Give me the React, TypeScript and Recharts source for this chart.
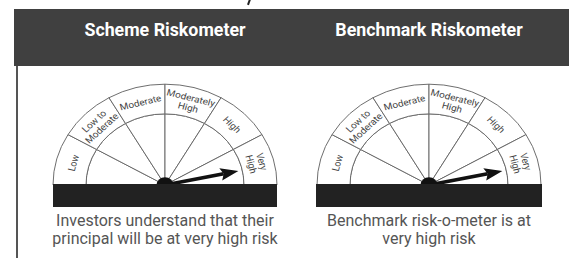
import { Pie, PieChart } from "recharts";

const riskLevels = ["Low", "Low to Moderate", "Moderate", "Moderately High", "High", "Very High"];
const levelLabelLines = [
  ["Low"],
  ["Low to", "Moderate"],
  ["Moderate"],
  ["Moderately", "High"],
  ["High"],
  ["Very", "High"],
];
const segmentWeights = [1, 1, 1, 1, 1, 1];
const gaugeTitles = ["Scheme Riskometer", "Benchmark Riskometer"];
const gaugeCaptions = [
  ["Investors understand that their", "principal will be at very high risk"],
  ["Benchmark risk-o-meter is at", "very high risk"],
];
// needle position on the 0–6 level scale
const needleLevels = [5.6, 5.6];

const RADIAN = Math.PI / 180;
const CX = 120;
const CY = 118;
const INNER_R = 79;
const OUTER_R = 112;
const LINE = "#666";

const segments = riskLevels.map((name, i) => ({ name, value: segmentWeights[i] }));

function RingLabel(props: any) {
  const { cx, cy, midAngle, innerRadius, outerRadius, index } = props;
  const r = (innerRadius + outerRadius) / 2;
  const x = cx + r * Math.cos(-midAngle * RADIAN);
  const y = cy + r * Math.sin(-midAngle * RADIAN);
  const lines = levelLabelLines[index];
  const rot = 90 - midAngle;
  return (
    <text
      x={x}
      y={y}
      transform={`rotate(${rot} ${x} ${y})`}
      textAnchor="middle"
      dominantBaseline="central"
      fontSize={10}
      fontFamily="Roboto, sans-serif"
      fill="#444"
    >
      {lines.map((l, i) => (
        <tspan key={i} x={x} dy={i === 0 ? -(lines.length - 1) * 5.5 : 11}>
          {l}
        </tspan>
      ))}
    </text>
  );
}

function NeedleLabel(props: any) {
  const { cx, cy, index, endAngle } = props;
  if (index !== 0) return null;
  const a = -endAngle * RADIAN;
  const px = (r: number, off = 0) =>
    cx + r * Math.cos(a) + off * Math.cos(a + Math.PI / 2);
  const py = (r: number, off = 0) =>
    cy + r * Math.sin(a) + off * Math.sin(a + Math.PI / 2);
  return (
    <g>
      <line x1={cx} y1={cy} x2={px(60)} y2={py(60)} stroke="#111" strokeWidth={4} />
      <polygon
        points={`${px(75)},${py(75)} ${px(57, 7)},${py(57, 7)} ${px(60, 0)},${py(60, 0)} ${px(57, -7)},${py(57, -7)}`}
        fill="#111"
      />
      <circle cx={cx} cy={cy} r={8.5} fill="#111" />
    </g>
  );
}

function Gauge({ center, needle }: { center: number; needle: number }) {
  const needleData = [{ value: needle }, { value: 6 - needle }];
  return (
    <div
      style={{
        position: "absolute",
        left: center - CX,
        top: 185 - CY,
        width: 240,
        height: 124,
        transform: "scaleY(0.9)",
        transformOrigin: `${CX}px ${CY}px`,
      }}
    >
      <PieChart width={240} height={124} margin={{ top: 0, right: 0, bottom: 0, left: 0 }}>
        <Pie
          data={segments}
          dataKey="value"
          cx={CX}
          cy={CY}
          startAngle={180}
          endAngle={0}
          innerRadius={0}
          outerRadius={INNER_R}
          fill="#fff"
          stroke={LINE}
          strokeWidth={1}
          isAnimationActive={false}
        />
        <Pie
          data={segments}
          dataKey="value"
          cx={CX}
          cy={CY}
          startAngle={180}
          endAngle={0}
          innerRadius={INNER_R}
          outerRadius={OUTER_R}
          fill="#fff"
          stroke={LINE}
          strokeWidth={1}
          label={RingLabel}
          labelLine={false}
          isAnimationActive={false}
        />
        <Pie
          data={needleData}
          dataKey="value"
          cx={CX}
          cy={CY}
          startAngle={180}
          endAngle={0}
          innerRadius={0}
          outerRadius={1}
          fill="none"
          stroke="none"
          label={NeedleLabel}
          labelLine={false}
          isAnimationActive={false}
        />
      </PieChart>
    </div>
  );
}

const centers = [165, 429];
const barSpans = [
  [53, 277],
  [316, 542],
];

export default function App() {
  return (
    <div
      style={{
        position: "absolute",
        left: 0,
        top: 0,
        width: 569,
        height: 258,
        background: "#fff",
        overflow: "hidden",
        fontFamily: "Roboto, sans-serif",
      }}
    >
      {/* stray mark at the top edge */}
      <div
        style={{
          position: "absolute",
          left: 248,
          top: -1,
          width: 2,
          height: 6,
          background: "#222",
          transform: "rotate(20deg)",
        }}
      />
      {/* header band */}
      <div
        style={{
          position: "absolute",
          left: 14,
          top: 9,
          width: 555,
          height: 57,
          background: "#404040",
        }}
      />
      <div
        style={{
          position: "absolute",
          left: 16,
          top: 66,
          width: 2,
          height: 192,
          background: "#555",
        }}
      />
      {gaugeTitles.map((t, i) => (
        <div
          key={t}
          style={{
            position: "absolute",
            left: centers[i] - 130,
            width: 260,
            top: 19,
            lineHeight: "22px",
            textAlign: "center",
            color: "#fff",
            fontWeight: 700,
            fontSize: 17.8,
          }}
        >
          {t}
        </div>
      ))}
      {centers.map((c, i) => (
        <Gauge key={i} center={c} needle={needleLevels[i]} />
      ))}
      {barSpans.map(([l, r], i) => (
        <div
          key={i}
          style={{
            position: "absolute",
            left: l,
            width: r - l,
            top: 184,
            height: 23,
            background: "#222",
          }}
        />
      ))}
      {gaugeCaptions.map((lines, i) => (
        <div
          key={i}
          style={{
            position: "absolute",
            left: centers[i] - 140,
            width: 280,
            top: 212,
            lineHeight: "18px",
            textAlign: "center",
            color: "#555",
            fontSize: 16,
          }}
        >
          {lines.map((l) => (
            <div key={l}>{l}</div>
          ))}
        </div>
      ))}
    </div>
  );
}
